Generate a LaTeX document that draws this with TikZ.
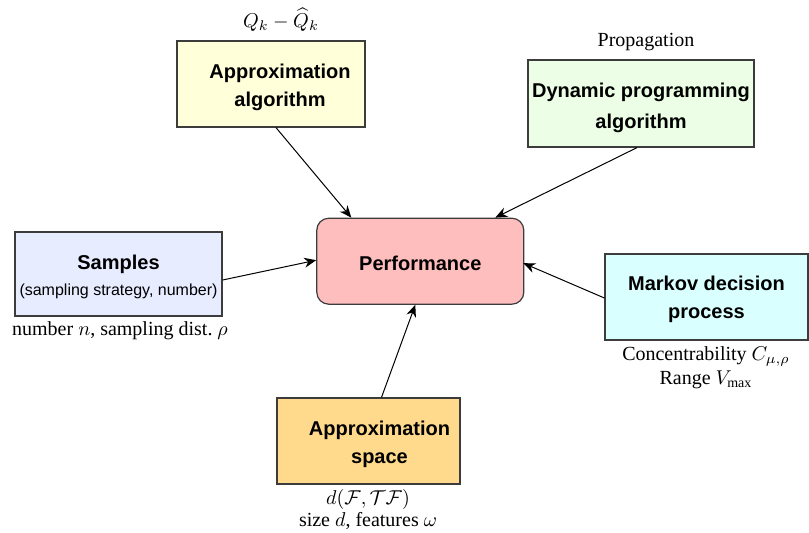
\documentclass[tikz,border=0pt]{standalone}
\usepackage{fontspec}
\setmainfont{Liberation Serif}
\setsansfont{Liberation Sans}
\usetikzlibrary{arrows.meta,calc}
\definecolor{cAlg}{RGB}{255,255,218}
\definecolor{cDP}{RGB}{236,255,230}
\definecolor{cSamp}{RGB}{232,236,255}
\definecolor{cPerf}{RGB}{255,190,190}
\definecolor{cMDP}{RGB}{218,255,255}
\definecolor{cSpace}{RGB}{255,218,140}
\definecolor{cBorder}{RGB}{60,60,60}
\newcommand{\mystrut}[1]{\rule{0pt}{#1}}
\tikzset{
  box/.style={draw=cBorder, line width=0.6pt, align=center, inner sep=2pt,
    font=\sffamily\bfseries\fontsize{10}{14}\selectfont},
  lbl/.style={align=center, inner sep=0pt, font=\fontsize{10}{12}\selectfont},
  conn/.style={-{Stealth[length=6pt,width=5pt]}, line width=0.5pt, black},
}
\begin{document}
\begin{tikzpicture}[x=0.5pt,y=-0.5pt]
\useasboundingbox (0,0) rectangle (809,532);
% boxes
\node[box, fill=cAlg, minimum width=94pt, minimum height=43pt] (alg) at (271,84) {\hspace*{9pt}\mystrut{10.5pt}Approximation\\\hspace*{9pt}algorithm};
\node[box, fill=cDP, minimum width=113pt, minimum height=43.5pt, font=\sffamily\bfseries\fontsize{10}{15.5}\selectfont] (dp) at (641,103.5) {\mystrut{11.5pt}Dynamic programming\\algorithm};
\node[box, fill=cSamp, minimum width=103.5pt, minimum height=42pt, font=\sffamily\fontsize{8}{12}\selectfont] (samp) at (118.5,274) {{\bfseries\fontsize{10}{12}\selectfont\mystrut{10pt}Samples}\\[1pt](sampling strategy, number)};
\node[box, fill=cPerf, rounded corners=6pt, minimum width=103.5pt, minimum height=43pt] (perf) at (420.3,261.2) {\mystrut{9pt}Performance};
\node[box, fill=cMDP, minimum width=101.5pt, minimum height=43pt] (mdp) at (706.5,297) {\mystrut{9.5pt}Markov decision\\process};
\node[box, fill=cSpace, minimum width=91.5pt, minimum height=43pt] (space) at (368.5,441) {\hspace*{11pt}\mystrut{11pt}Approximation\\\hspace*{11pt}space};
% labels
\node[lbl] (lalg) at (281,20) {$Q_k-\widehat{Q}_k$};
\node[lbl] (ldp) at (646,42) {Propagation};
\node[lbl] (lsamp) at (120,331) {number $n$, sampling dist.\ $\rho$};
\node[lbl] (lmdp1) at (706,356) {Concentrability $C_{\mu,\rho}$};
\node[lbl] (lmdp2) at (706,380) {Range $V_{\mathrm{max}}$};
\node[lbl] (lsp1) at (368,499) {$d(\mathcal{F},\mathcal{T}\mathcal{F})$};
\node[lbl] (lsp2) at (368,521) {size $d$, features $\omega$};
% connectors
\draw[conn] ($(alg.south)+(5,0)$) -- ($(perf.north)+(-69,0)$);
\draw[conn] ($(dp.south)+(-4,0)$) -- ($(perf.north)+(75,0)$);
\draw[conn] ($(samp.east)+(0,6)$) -- ($(perf.west)+(0,-1)$);
\draw[conn] ($(mdp.west)+(0,1)$) -- ($(perf.east)+(-1,2)$);
\draw[conn] ($(space.north)+(13,0)$) -- ($(perf.south)+(-5,0)$);
\end{tikzpicture}
\end{document}
